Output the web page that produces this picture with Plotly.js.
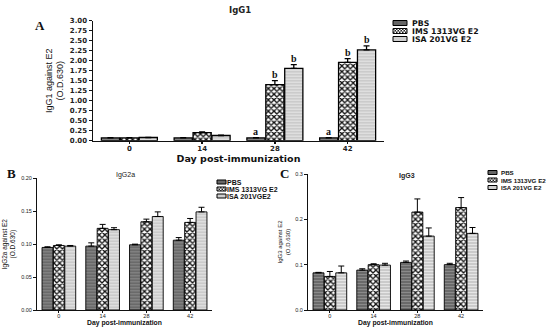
<!DOCTYPE html>
<html><head><meta charset="utf-8">
<script src="https://cdn.plot.ly/plotly-3.0.1.min.js"></script>
<style>html,body{margin:0;padding:0;background:#fff}#chart{width:550px;height:329px}</style>
</head><body><div id="chart"></div>
<script>
// ---- data ----
const days = ['0', '14', '28', '42'];
const seriesNames = ['PBS', 'IMS 1313VG E2', 'ISA 201VG E2'];
const seriesNamesB = ['PBS', 'IMS 1313VG E2', 'ISA 201VGE2'];

// Panel A: IgG1
const igg1_pbs = [0.07, 0.07, 0.07, 0.07];
const igg1_ims = [0.07, 0.20, 1.40, 1.96];
const igg1_isa = [0.08, 0.13, 1.81, 2.27];
const igg1_pbs_err = [0.005, 0.005, 0.005, 0.005];
const igg1_ims_err = [0.005, 0.02, 0.10, 0.09];
const igg1_isa_err = [0.005, 0.01, 0.09, 0.10];
const igg1_pbs_letters = ['', '', 'a', 'a'];
const igg1_ims_letters = ['', '', 'b', 'b'];
const igg1_isa_letters = ['', '', 'b', 'b'];

// Panel B: IgG2a
const igg2a_pbs = [0.095, 0.097, 0.099, 0.106];
const igg2a_ims = [0.098, 0.124, 0.134, 0.133];
const igg2a_isa = [0.097, 0.122, 0.142, 0.149];
const igg2a_pbs_err = [0.001, 0.005, 0.001, 0.004];
const igg2a_ims_err = [0.001, 0.006, 0.004, 0.006];
const igg2a_isa_err = [0.001, 0.003, 0.007, 0.007];

// Panel C: IgG3
const igg3_pbs = [0.082, 0.088, 0.105, 0.100];
const igg3_ims = [0.074, 0.100, 0.216, 0.226];
const igg3_isa = [0.082, 0.099, 0.163, 0.169];
const igg3_pbs_err = [0.001, 0.003, 0.003, 0.003];
const igg3_ims_err = [0.011, 0.002, 0.029, 0.022];
const igg3_isa_err = [0.015, 0.004, 0.018, 0.013];

// ---- styles ----
const BARGAP = 0.22;
const styles = [
  {color: '#6a6a6a', swatch: '#666666', pattern: {shape: '-', bgcolor: '#666666', fgcolor: '#8a8a8a', size: 3, solidity: 0.4}},
  {color: '#ffffff', swatch: '#444444', pattern: {shape: 'x', bgcolor: '#ffffff', fgcolor: '#111111', size: 4, solidity: 0.55}},
  {color: '#cccccc', swatch: '#cfcfcf', pattern: {shape: '-', bgcolor: '#c6c6c6', fgcolor: '#e6e6e6', size: 3, solidity: 0.45}}
];

function mkTrace(name, y, err, idx, xa, ya, lw, ew) {
  return {
    type: 'bar', name: name, x: days, y: y, xaxis: xa, yaxis: ya, showlegend: false,
    marker: {color: styles[idx].color, pattern: styles[idx].pattern, line: {color: '#000', width: lw}},
    error_y: {type: 'data', symmetric: false, array: err, arrayminus: err.map(() => 0), color: '#000', thickness: ew, width: 3},
    hoverinfo: 'skip'
  };
}

const traces = [
  mkTrace(seriesNames[0], igg1_pbs, igg1_pbs_err, 0, 'x', 'y', 1.3, 1.3),
  mkTrace(seriesNames[1], igg1_ims, igg1_ims_err, 1, 'x', 'y', 1.3, 1.3),
  mkTrace(seriesNames[2], igg1_isa, igg1_isa_err, 2, 'x', 'y', 1.3, 1.3),
  mkTrace(seriesNamesB[0], igg2a_pbs, igg2a_pbs_err, 0, 'x2', 'y2', 0.9, 1),
  mkTrace(seriesNamesB[1], igg2a_ims, igg2a_ims_err, 1, 'x2', 'y2', 0.9, 1),
  mkTrace(seriesNamesB[2], igg2a_isa, igg2a_isa_err, 2, 'x2', 'y2', 0.9, 1),
  mkTrace(seriesNames[0], igg3_pbs, igg3_pbs_err, 0, 'x3', 'y3', 0.9, 1),
  mkTrace(seriesNames[1], igg3_ims, igg3_ims_err, 1, 'x3', 'y3', 0.9, 1),
  mkTrace(seriesNames[2], igg3_isa, igg3_isa_err, 2, 'x3', 'y3', 0.9, 1)
];

// significance letters for panel A
const annotations = [];
const shapes = [];
const barW = (1 - BARGAP) / 3;
const letterSets = [
  [igg1_pbs, igg1_pbs_err, igg1_pbs_letters, -barW],
  [igg1_ims, igg1_ims_err, igg1_ims_letters, 0],
  [igg1_isa, igg1_isa_err, igg1_isa_letters, barW]
];
letterSets.forEach(([vals, errs, letters, off]) => {
  letters.forEach((t, i) => {
    if (!t) return;
    annotations.push({xref: 'x', yref: 'y', x: i + off, y: vals[i] + errs[i], text: '<b>' + t + '</b>',
      showarrow: false, yanchor: 'bottom', yshift: -1,
      font: {family: 'Liberation Serif, serif', size: 10, color: '#111'}});
  });
});

function P(px, py) { return {x: px / 550, y: (329 - py) / 329}; }
function addText(text, px, py, font, xanchor) {
  const p = P(px, py);
  annotations.push({xref: 'paper', yref: 'paper', x: p.x, y: p.y, text: text, showarrow: false,
    xanchor: xanchor || 'center', yanchor: 'middle', borderpad: 0, font: font});
}
addText('<b>A</b>', 40, 26, {family: 'Liberation Serif, serif', size: 13, color: '#111'});
addText('<b>B</b>', 11, 173, {family: 'Liberation Serif, serif', size: 13, color: '#111'});
addText('<b>C</b>', 284, 173, {family: 'Liberation Serif, serif', size: 13, color: '#111'});
addText('<b>IgG1</b>', 240, 10, {family: 'DejaVu Sans, sans-serif', size: 8.5, color: '#222'});
addText('IgG2a', 125, 175, {family: 'Liberation Sans, Arial, sans-serif', size: 7, color: '#222'});
addText('<b>IgG3</b>', 407, 176, {family: 'Liberation Sans, Arial, sans-serif', size: 7, color: '#222'});

// ---- hand-drawn legends (compact, like the original) ----
function checkerPath(x0, y0, x1, y1, c) {
  let d = '';
  let row = 0;
  for (let y = y0; y < y1 - 0.01; y += c, row++) {
    let col = 0;
    for (let x = x0; x < x1 - 0.01; x += c, col++) {
      if ((row + col) % 2 === 0) {
        const xe = Math.min(x + c, x1), ye = Math.min(y + c, y1);
        const a = P(x, y), b = P(xe, ye);
        d += 'M' + a.x + ',' + a.y + 'L' + b.x + ',' + a.y + 'L' + b.x + ',' + b.y + 'L' + a.x + ',' + b.y + 'Z';
      }
    }
  }
  return d;
}
function addLegend(names, sx, sw, sh, tx, ys, font) {
  names.forEach((nm, i) => {
    const y0 = ys[i] - sh / 2, y1 = ys[i] + sh / 2;
    const a = P(sx, y0), b = P(sx + sw, y1);
    shapes.push({type: 'rect', xref: 'paper', yref: 'paper', x0: a.x, x1: b.x, y0: b.y, y1: a.y,
      fillcolor: i === 1 ? '#ffffff' : styles[i].swatch, line: {color: '#000', width: 1}});
    if (i === 1) {
      shapes.push({type: 'path', xref: 'paper', yref: 'paper', path: checkerPath(sx, y0, sx + sw, y1, 1.5),
        fillcolor: '#222', line: {width: 0}});
    }
    addText(nm, tx, ys[i], font, 'left');
  });
}
addLegend(seriesNames, 393, 14, 5, 411, [23, 31, 39],
  {family: 'DejaVu Sans, sans-serif', size: 7.8, color: '#111', weight: 'bold'});
addLegend(seriesNamesB, 217, 9, 4, 226, [182, 189, 196],
  {family: 'Liberation Sans, Arial, sans-serif', size: 7, color: '#111', weight: 'bold'});
addLegend(seriesNames, 488, 9, 4, 500, [172.5, 180, 187.5],
  {family: 'Liberation Sans, Arial, sans-serif', size: 6.2, color: '#111', weight: 'bold'});

const tickA = {family: 'DejaVu Sans, sans-serif', size: 7, color: '#222', weight: 'bold'};
const tickS = {family: 'Liberation Sans, Arial, sans-serif', size: 5.5, color: '#222'};
const dA = [P(93, 0).x, P(384, 0).x];
const dB = [P(37, 0).x, P(212, 0).x];
const dC = [P(308, 0).x, P(483, 0).x];

function xax(dom, font, lw, title, tfont, anchor, standoff) {
  return {domain: dom, anchor: anchor, type: 'category', showgrid: false, zeroline: false,
    showline: true, linecolor: '#111', linewidth: lw, ticks: 'outside', ticklen: 2, tickwidth: lw, tickcolor: '#111',
    ticklabelstandoff: -2,
    tickfont: font, title: {text: title, font: tfont, standoff: standoff}};
}
function yax(dom, range, dtick, fmt, font, lw, title, tfont, anchor) {
  return {domain: dom, anchor: anchor, range: range, tickmode: 'linear', tick0: 0, dtick: dtick, tickformat: fmt,
    showgrid: false, zeroline: false,
    showline: true, linecolor: '#111', linewidth: lw, ticks: 'outside', ticklen: 3, tickwidth: lw, tickcolor: '#111',
    tickfont: font, title: {text: title, font: tfont, standoff: 4}};
}

const layout = {
  width: 550, height: 329, margin: {l: 0, r: 0, t: 0, b: 0},
  paper_bgcolor: '#fff', plot_bgcolor: '#fff',
  barmode: 'group', bargap: BARGAP, bargroupgap: 0.04,
  showlegend: false,
  xaxis: xax(dA, tickA, 1.5, '<b>Day post-immunization</b>', {family: 'DejaVu Sans, sans-serif', size: 9.5, color: '#111'}, 'y', 0),
  yaxis: yax([P(0, 140.7).y, P(0, 20.7).y], [0, 3], 0.25, '.2f', tickA, 1.5, 'IgG1 against E2<br>(O.D.630)',
    {family: 'Liberation Sans Narrow, Liberation Sans, sans-serif', size: 9, color: '#111'}, 'x'),
  xaxis2: xax(dB, tickS, 1, '<b>Day post-immunization</b>', {family: 'Liberation Sans, Arial, sans-serif', size: 6.8, color: '#111'}, 'y2', 0),
  yaxis2: yax([P(0, 310).y, P(0, 178.3).y], [0, 0.2], 0.05, '.2f', tickS, 1, 'IgG2a against E2<br>(O.D.630)',
    {family: 'Liberation Sans, Arial, sans-serif', size: 6.5, color: '#111'}, 'x2'),
  xaxis3: xax(dC, tickS, 1, '<b>Day post-immunization</b>', {family: 'Liberation Sans, Arial, sans-serif', size: 6.8, color: '#111'}, 'y3', 0),
  yaxis3: yax([P(0, 310).y, P(0, 174).y], [0, 0.3], 0.1, '.1f', tickS, 1, 'IgG3 against E2<br>(O.D.630)',
    {family: 'Liberation Sans, Arial, sans-serif', size: 6, color: '#111'}, 'x3'),
  annotations: annotations,
  shapes: shapes
};

Plotly.newPlot('chart', traces, layout, {staticPlot: true, displayModeBar: false});
</script>
</body></html>
